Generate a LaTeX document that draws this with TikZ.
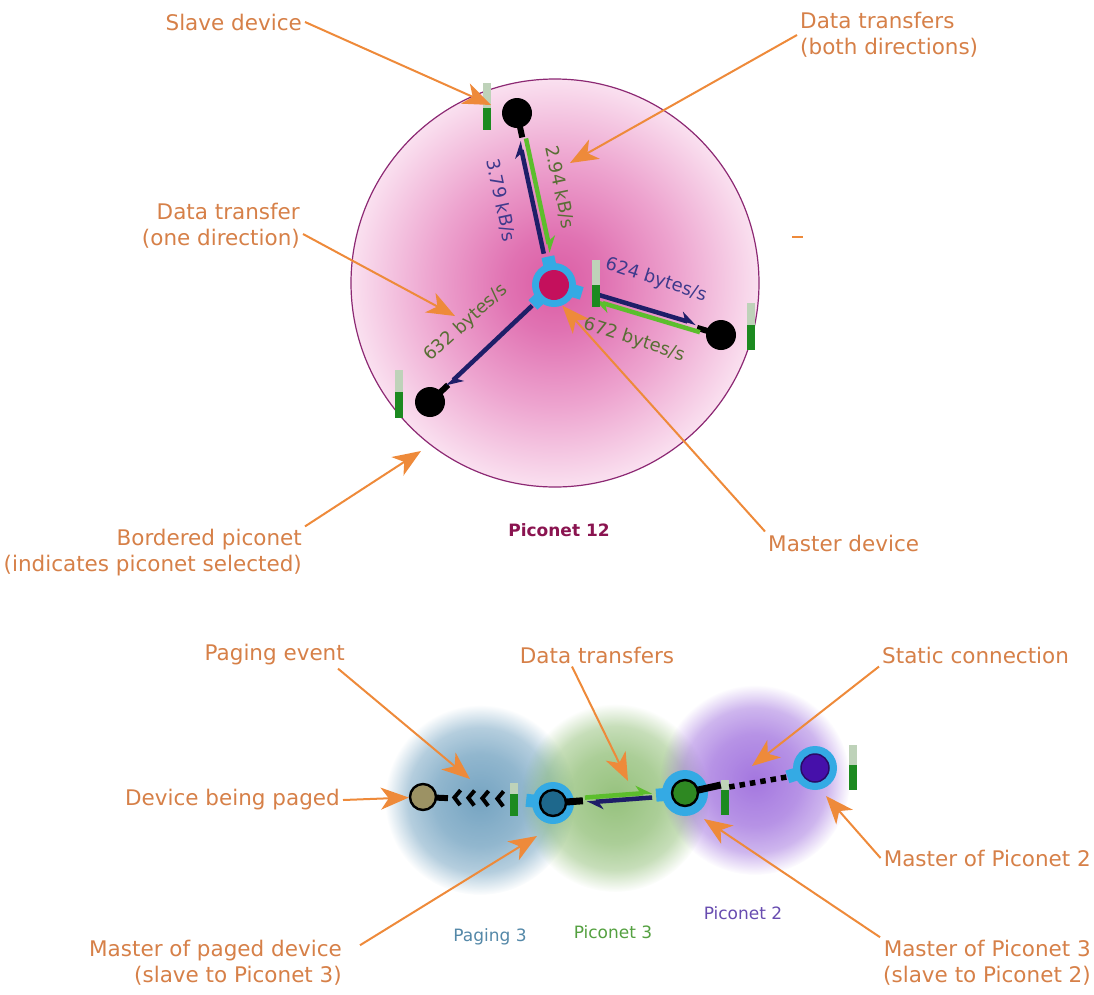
\documentclass[tikz,border=0pt]{standalone}
\usepackage{fontspec}
\setmainfont{DejaVu Sans}
\usepackage{xcolor}
\usepackage{tikz}
\usetikzlibrary{arrows.meta,calc,fadings,decorations.markings}

\definecolor{notec}{RGB}{214,128,72}
\definecolor{ptrc}{RGB}{238,138,58}
\definecolor{rimc}{RGB}{140,40,115}
\definecolor{ringc}{RGB}{52,170,228}
\definecolor{magc}{RGB}{196,16,92}
\definecolor{navyc}{RGB}{30,30,104}
\definecolor{linkg}{RGB}{92,190,44}
\definecolor{navytxt}{RGB}{62,58,140}
\definecolor{olivetxt}{RGB}{88,110,52}
\definecolor{barg}{RGB}{28,138,32}
\definecolor{barlt}{RGB}{190,210,185}
\definecolor{pagedc}{RGB}{156,146,100}
\definecolor{tealc}{RGB}{30,104,140}
\definecolor{greenc}{RGB}{46,136,34}
\definecolor{purplec}{RGB}{70,16,170}
\definecolor{bluefz}{RGB}{78,138,176}
\definecolor{greenfz}{RGB}{120,176,88}
\definecolor{purplefz}{RGB}{138,80,214}
\definecolor{pico12}{RGB}{138,20,80}
\definecolor{pagingtxt}{RGB}{84,136,168}
\definecolor{pico3txt}{RGB}{84,160,64}
\definecolor{pico2txt}{RGB}{104,76,176}

\pgfdeclareradialshading{pinkdisc}{\pgfpointorigin}{%
  rgb(0bp)=(0.86,0.36,0.64); rgb(6bp)=(0.88,0.45,0.70);
  rgb(15bp)=(0.93,0.64,0.81); rgb(25bp)=(0.98,0.88,0.94);
  rgb(50bp)=(0.98,0.88,0.94)}
\pgfdeclareradialshading{fzmask}{\pgfpointorigin}{%
  gray(0bp)=(0.78); gray(12bp)=(0.62); gray(19bp)=(0.42);
  gray(25bp)=(0); gray(50bp)=(0)}
\pgfdeclarefading{fuzzy}{\pgfuseshading{fzmask}}

\begin{document}
\begin{tikzpicture}[
    x=1pt, y=-1pt,
    >={Stealth[length=28pt, width=22pt, inset=8pt]},
    note/.style={text=notec, font=\fontsize{21.5}{26}\selectfont, inner sep=3pt},
    ptr/.style={->, ptrc, line width=2pt},
    rate/.style={text=#1, font=\fontsize{18}{21}\selectfont, inner sep=1pt},
    zone/.style={text=#1, font=\fontsize{17}{20}\selectfont},
    slave/.style={circle, fill=black, minimum size=30pt, inner sep=0pt},
    ring/.style={circle, fill=ringc, minimum size=#1, inner sep=0pt},
    core/.style={circle, fill=#1, minimum size=26pt, inner sep=0pt},
    edged/.style={draw=black, line width=2.4pt},
    tab/.style={ringc, line width=13pt},
    stub/.style={black, line width=6pt},
    link/.style={#1, line width=4.5pt, -{Stealth[harpoon, length=14pt, width=16pt]}},
    bar/.style={rectangle, fill=barlt, minimum width=8pt, minimum height=47pt, inner sep=0pt,
      path picture={\fill[barg] (path picture bounding box.south west)
        rectangle ([yshift=#1]path picture bounding box.south east);}},
    chev/.tip={Straight Barb[length=6pt, width=15pt, line width=4pt]},
    chevrons/.style={postaction=decorate, decoration={markings,
      mark=at position 15pt with {\arrow{chev}},
      mark=at position 30pt with {\arrow{chev}},
      mark=at position 44pt with {\arrow{chev}},
      mark=at position 58pt with {\arrow{chev}}}},
  ]
  \useasboundingbox (0,0) rectangle (1094,994);

  % --- piconet 12 ------------------------------------------------------
  \node[circle, draw=rimc, line width=1.2pt, shade, shading=pinkdisc,
        minimum size=408pt, inner sep=0pt] (disc) at (555,283) {};
  \node[font=\fontsize{17}{20}\selectfont\bfseries, text=pico12] (pn12) at (559,530) {Piconet 12};

  \node[ring=44pt] (m) at (554,285) {};
  \node[slave] (s1) at (517,113) {};
  \node[slave] (s2) at (721,335) {};
  \node[slave] (s3) at (430,402) {};
  \draw[tab] (m.center) -- ($(m)!29pt!(s1)$);
  \draw[tab] (m.center) -- ($(m)!29pt!(s2)$);
  \draw[tab] (m.center) -- ($(m)!29pt!(s3)$);
  \node[core=magc, minimum size=30pt] (mc) at (m) {};
  \draw[stub] (s1.center) -- ($(s1)!25pt!(m)$);
  \draw[stub] (s2.center) -- ($(s2)!25pt!(m)$);
  \draw[stub] (s3.center) -- ($(s3)!25pt!(m)$);

  % links (master <-> slaves)
  \draw[link=navyc] ([xshift=-3.5pt]$(m)!32pt!(s1)$) -- ([xshift=-3.5pt]$(s1)!29pt!(m)$);
  \draw[link=linkg] ([xshift=3.5pt]$(s1)!26pt!(m)$) -- ([xshift=3.5pt]$(m)!33pt!(s1)$);
  \draw[link=navyc] ([yshift=3.5pt]$(m)!44pt!(s2)$) -- ([yshift=3.5pt]$(s2)!26pt!(m)$);
  \draw[link=linkg] ([yshift=-3.5pt]$(s2)!22pt!(m)$) -- ([yshift=-3.5pt]$(m)!42pt!(s2)$);
  \draw[link=navyc] ($(m)!30pt!(s3)$) -- ($(s3)!23pt!(m)$);

  \node[rate=navytxt, rotate=-78] (r1) at (501,200) {3.79 kB/s};
  \node[rate=olivetxt, rotate=-78] (r2) at (560,187) {2.94 kB/s};
  \node[rate=navytxt, rotate=-18] (r3) at (656,280) {624 bytes/s};
  \node[rate=olivetxt, rotate=-18] (r4) at (634,340) {672 bytes/s};
  \node[rate=olivetxt, rotate=42] (r5) at (466,323) {632 bytes/s};

  \node[bar=22pt] (b1) at (487,106) {};
  \node[bar=22pt] (bm) at (596,283) {};
  \node[bar=25pt] (b2) at (751,326) {};
  \node[bar=26pt, minimum height=48pt] (b3) at (399,394) {};

  % --- paging chain ----------------------------------------------------
  \fill[bluefz, path fading=fuzzy] (480,800) circle (95);
  \fill[greenfz, path fading=fuzzy] (615,798) circle (94);
  \fill[purplefz, path fading=fuzzy] (755,780) circle (95);
  \node[zone=pagingtxt] (zp3) at (490,937) {Paging 3};
  \node[zone=pico3txt] (zpc3) at (613,932) {Piconet 3};
  \node[zone=pico2txt] (zpc2) at (743,913) {Piconet 2};

  \node[ring=42pt] (mp) at (553,803) {};
  \node[ring=46pt] (m3) at (685,793) {};
  \node[ring=44pt] (mp2) at (815,768) {};
  \node[bar=22pt, minimum height=33pt] (b4) at (514,799) {};
  \node[bar=25pt, minimum height=35pt] (b5) at (725,797) {};
  \node[bar=25pt, minimum height=45pt] (b6) at (853,767) {};
  \draw[tab] (mp.center) -- ($(mp)!27pt!(b4)$);
  \draw[tab] (m3.center) -- ($(m3)!29pt!(mp)$);
  \draw[tab] (mp2.center) -- ($(mp2)!29pt!(b5)$);
  \draw[stub, line width=7pt] (mp.center) -- ($(mp)!30pt!(m3)$);
  \draw[stub, line width=7pt] (m3.center) -- ([yshift=12pt]b5.west);
  \node[core=tealc, edged] (mpc) at (mp) {};
  \node[core=greenc, edged] (m3c) at (m3) {};
  \node[core=purplec, draw=purplec!60!black, line width=1.5pt, minimum size=28pt] (mp2c) at (mp2) {};
  \node[core=pagedc, edged] (pd) at (423,797) {};
  \draw[stub, shorten <=12pt] (pd.center) -- ($(pd)!25pt!(mp)$);

  \path[chevrons] (b4.west) -- (pd.east);
  \draw[link=linkg] ([yshift=3pt]$(mp)!32pt!(m3)$) -- ([yshift=3pt]$(m3)!33pt!(mp)$);
  \draw[link=navyc] ([yshift=-2pt]$(m3)!33pt!(mp)$) -- ([yshift=-2pt]$(mp)!34pt!(m3)$);
  \draw[black, line width=5.5pt, dash pattern=on 5.5pt off 5pt]
    ([yshift=10pt]b5.east) -- ($(mp2)!29pt!(b5)$);

  % --- notes -----------------------------------------------------------
  \node[note, anchor=east] (nsl) at (305,22) {Slave device};
  \node[note, anchor=west, align=left] (ndtb) at (797,35) {Data transfers\\(both directions)};
  \node[note, anchor=east, align=right] (ndt1) at (303,226) {Data transfer\\(one direction)};
  \node[note, anchor=east, align=right] (nbp) at (305,553) {Bordered piconet\\(indicates piconet selected)};
  \node[note, anchor=west] (nmd) at (765,543) {Master device};
  \node[note, anchor=east] (npe) at (348,655) {Paging event};
  \node[note] (ndt2) at (597,655) {Data transfers};
  \node[note, anchor=west] (nsc) at (879,655) {Static connection};
  \node[note, anchor=east] (ndbp) at (343,800) {Device being paged};
  \node[note, anchor=east] (nmp2) at (1094,858) {Master of Piconet 2};
  \node[note, anchor=east, align=right] (nmpd) at (345,963) {Master of paged device\\(slave to Piconet 3)};
  \node[note, anchor=east, align=right] (nmp3) at (1094,963) {Master of Piconet 3\\(slave to Piconet 2)};

  \coordinate (tsl) at (491,105);
  \coordinate (tdtb) at (570,163);
  \coordinate (tdt1) at (455,316);
  \coordinate (tbp) at (421,451);
  \coordinate (tpe) at (470,779);
  \coordinate (tdt2) at (628,781);
  \coordinate (tsc) at (752,766);
  \coordinate (tmp2) at (826,796);
  \coordinate (tmpd) at (537,836);
  \coordinate (tmp3) at (704,819);

  \draw[ptr] (nsl.east) -- (tsl);
  \draw[ptr] (ndtb.west) -- (tdtb);
  \draw[ptr] ([yshift=-8pt]ndt1.east) -- (tdt1);
  \draw[ptr] (nbp.north east) -- (tbp);
  \draw[ptr] (nmd.north west) -- (m.-68);
  \draw[ptr] ([xshift=-10pt]npe.south east) -- (tpe);
  \draw[ptr] ([xshift=-25pt]ndt2.south) -- (tdt2);
  \draw[ptr] (nsc.south west) -- (tsc);
  \draw[ptr] (ndbp.east) -- (pd);
  \draw[ptr] (nmp2.west) -- (tmp2);
  \draw[ptr] ([xshift=15pt, yshift=-8pt]nmpd.north east) -- (tmpd);
  \draw[ptr] (nmp3.north west) -- (tmp3);
  \draw[ptrc, line width=2pt] (792,237) -- (803,237);
\end{tikzpicture}
\end{document}
